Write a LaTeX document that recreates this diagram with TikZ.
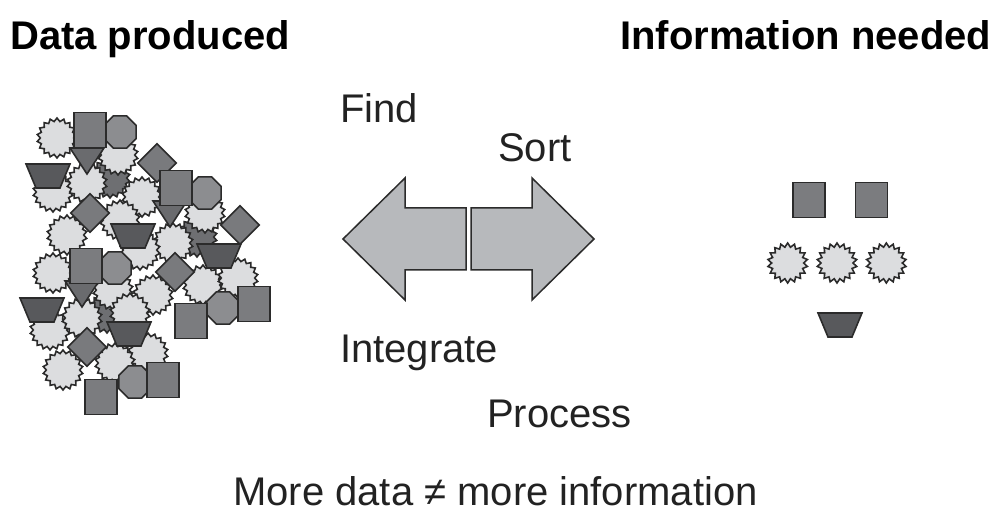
\documentclass[tikz,border=0pt]{standalone}
\usepackage{fontspec}
\setmainfont{Liberation Sans}
\usepackage{tikz}
\usetikzlibrary{shapes.geometric,positioning}
\definecolor{shapeline}{HTML}{2B2B2B}
\definecolor{lightburst}{HTML}{DCDDDF}
\definecolor{darkburst}{HTML}{6E6F72}
\definecolor{octgray}{HTML}{8C8D90}
\definecolor{sqgray}{HTML}{7B7C7F}
\definecolor{diagray}{HTML}{797A7D}
\definecolor{trigray}{HTML}{6A6B6E}
\definecolor{trapgray}{HTML}{58595C}
\definecolor{arrowgray}{HTML}{B7B9BC}
\definecolor{labeltext}{HTML}{222222}
\tikzset{
  blob/.style={draw=shapeline,line width=1.6pt,inner sep=0pt,fill=#1},
  starblob/.style={blob=#1,star,star points=18,star point ratio=1.2,minimum size=40pt},
  starblob/.default={lightburst},
  octblob/.style={blob=octgray,regular polygon,regular polygon sides=8,minimum size=35pt},
  sqblob/.style={blob=sqgray,rectangle,minimum width=32pt,minimum height=35pt},
  diablob/.style={blob=diagray,diamond,minimum width=39pt,minimum height=39pt},
  triblob/.pic={\draw[blob=trigray] (-17,-12) -- (17,-12) -- (0,14) -- cycle;},
  trapblob/.pic={\draw[blob=trapgray] (-22,-12) -- (22,-12) -- (12,12) -- (-12,12) -- cycle;},
  bigarrow/.style={draw=shapeline,line width=1.5pt,fill=arrowgray,line join=miter},
  lbl/.style={anchor=base west,inner sep=0pt,text=labeltext,font=\fontsize{40}{48}\selectfont},
  ttl/.style={lbl,text=black,font=\fontsize{40}{48}\selectfont\bfseries},
}
\begin{document}
\begin{tikzpicture}[x=1pt,y=-1pt]
  \useasboundingbox (0,0) rectangle (994,513);
  \node[ttl] (produced) at (10,50) {Data produced};
  \node[ttl] (needed) at (620,50) {Information needed};
  % the heap of data
  \foreach \px/\py [count=\i] in {110/178,197/237,107/313}
    \node[starblob=darkburst] (d\i) at (\px,\py) {};
  \foreach \px/\py [count=\i] in {57/138,118/155,53/192,87/183,142/197,205/213,120/220,
      67/235,173/243,140/250,53/273,203/285,238/278,113/290,153/295,50/330,82/318,
      130/313,148/353,115/363,63/370}
    \node[starblob] (b\i) at (\px,\py) {};
  \foreach \px/\py [count=\i] in {120/132,205/193,115/268,223/308,135/382}
    \node[octblob] (o\i) at (\px,\py) {};
  \foreach \px/\py [count=\i] in {87/160,170/213,82/293}
    \pic (t\i) at (\px,\py) {triblob};
  \foreach \px/\py [count=\i] in {157/163,90/213,240/225,175/272,87/347}
    \node[diablob] (k\i) at (\px,\py) {};
  \foreach \px/\py [count=\i] in {48/176,133/236,219/256,42/310,129/334}
    \pic (z\i) at (\px,\py) {trapblob};
  \foreach \px/\py [count=\i] in {90/130,176/188,86/266,254/304,191/321,163/380,101/397}
    \node[sqblob] (q\i) at (\px,\py) {};
  % arrows
  \draw[bigarrow] (466,208) -- (405,208) -- (405,178) -- (343,239) -- (405,300)
    -- (405,270) -- (466,270) -- cycle;
  \draw[bigarrow] (471,208) -- (532,208) -- (532,178) -- (594,239) -- (532,300)
    -- (532,270) -- (471,270) -- cycle;
  \node[lbl] (find) at (340,123) {Find};
  \node[lbl] (sort) at (498,162) {Sort};
  \node[lbl] (integrate) at (340,362) {Integrate};
  \node[lbl] (process) at (487,427) {Process};
  % what is needed
  \node[sqblob] (need1) at (809,200) {};
  \node[sqblob,right=29pt of need1] (need2) {};
  \node[starblob,star point ratio=1.25] (want2) at (837,263) {};
  \node[starblob,star point ratio=1.25,left=15pt of want2] (want1) {};
  \node[starblob,star point ratio=1.25,right=15pt of want2] (want3) {};
  \pic (cup) at (840,325) {trapblob};
  \node[lbl] (moredata) at (233,505) {More data ≠ more information};
\end{tikzpicture}
\end{document}
